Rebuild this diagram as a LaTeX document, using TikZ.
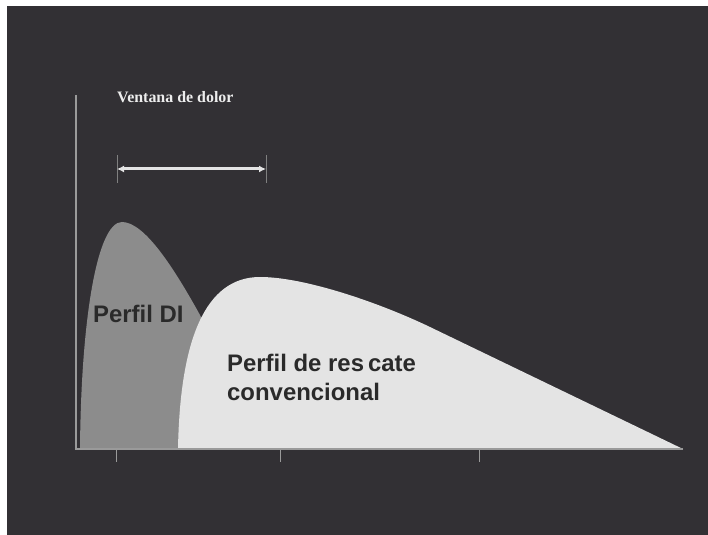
\documentclass[tikz,border=0pt]{standalone}
\usepackage{fontspec}
\setmainfont{Liberation Sans}
\newfontfamily\serifventana{Liberation Serif}
\usetikzlibrary{calc,arrows.meta}
\definecolor{fondo}{HTML}{323034}
\definecolor{perfilgris}{HTML}{8C8C8C}
\definecolor{perfilclaro}{HTML}{E4E4E4}
\definecolor{ejegris}{HTML}{9A9A9A}
\definecolor{textooscuro}{HTML}{2A2A2A}

\begin{document}
\begin{tikzpicture}[x=1bp,y=-1bp,
    eje/.style={draw=ejegris,line width=1.5bp},
    marca/.style={draw=ejegris,line width=1bp},
    etiqueta/.style={anchor=base west,inner sep=0pt,text=textooscuro,align=left,
        font=\fontsize{24}{29}\selectfont\bfseries}]

        \useasboundingbox (0,0) rectangle (708,535);
        \fill[white] (0,0) rectangle (708,535);
        \fill[fondo] (7,6) rectangle (708,535);

        \coordinate (origen) at (76,449);
        \coordinate (ejeY) at (76,95);
        \coordinate (ejeX) at (683,449);

        \fill[perfilgris] (80,449) .. controls (81,320) and (97,222) .. (122,222)
            .. controls (145,222) and (175,270) .. (200,315)
            .. controls (215,345) and (225,400) .. (230,449) -- cycle;
        \fill[perfilclaro] (178,449) .. controls (180,340) and (205,277) .. (260,277)
            .. controls (305,277) and (380,303) .. (430,327) -- (683,449) -- cycle;

        \draw[eje] (ejeY) -- (origen) -- (ejeX);
        \foreach \x in {116,280,479}
            \draw[marca] (\x,449) -- (\x,462);

        \node (ventana) [anchor=base west,inner sep=0pt,text=white!93!black,
            font=\serifventana\bfseries\fontsize{16}{19}\selectfont] at (117,103) {Ventana de dolor};

        \coordinate (ventanaIni) at (117,169);
        \coordinate (ventanaFin) at (266,169);
        \draw[marca,draw=gray] ($(ventanaIni)+(0,-14)$) -- ($(ventanaIni)+(0,14)$);
        \draw[marca,draw=gray] ($(ventanaFin)+(0,-14)$) -- ($(ventanaFin)+(0,14)$);
        \draw[{Latex[length=7bp,width=7bp]}-{Latex[length=7bp,width=7bp]},
            line width=3bp,draw=perfilclaro,fill=perfilclaro] (ventanaIni) -- (ventanaFin);

        \node (perfilDI) [etiqueta] at (93,322) {Perfil DI};
        \node (perfilRC) [etiqueta] at (227,400) {Perfil de res\,cate\\convencional};

    \end{tikzpicture}
\end{document}
